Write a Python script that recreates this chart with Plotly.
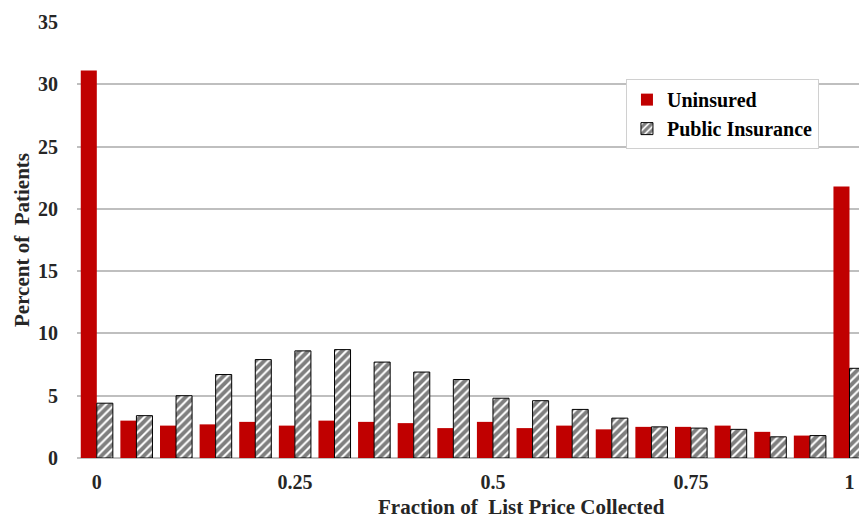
import plotly.graph_objects as go

# bins of the fraction of list price collected (category positions)
bins = ['0', '0.05', '0.1', '0.15', '0.2', '0.25', '0.3', '0.35', '0.4', '0.45',
        '0.5', '0.55', '0.6', '0.65', '0.7', '0.75', '0.8', '0.85', '0.9', '1']

# percent of patients
uninsured = [31.1, 3.0, 2.6, 2.7, 2.9, 2.6, 3.0, 2.9, 2.8, 2.4,
             2.9, 2.4, 2.6, 2.3, 2.5, 2.5, 2.6, 2.1, 1.8, 21.8]
public_ins = [4.4, 3.4, 5.0, 6.7, 7.9, 8.6, 8.7, 7.7, 6.9, 6.3,
              4.8, 4.6, 3.9, 3.2, 2.5, 2.4, 2.3, 1.7, 1.8, 7.2]

tick_vals = ['0', '0.25', '0.5', '0.75', '1']
tick_text = ['0', '0.25', '0.5', '0.75', '1']
y_ticks = [0, 5, 10, 15, 20, 25, 30, 35]

font_family = 'Liberation Serif'
text_color = '#262626'

fig = go.Figure()
fig.add_trace(go.Bar(
    x=bins, y=uninsured, name='<b>Uninsured</b>',
    marker=dict(color='#c00000', line=dict(width=0)),
))
fig.add_trace(go.Bar(
    x=bins, y=public_ins, name='<b>Public Insurance</b>',
    marker=dict(color='white',
                line=dict(color='black', width=1),
                pattern=dict(shape='/', fgcolor='black', bgcolor='white',
                             size=6, solidity=0.65)),
))

fig.update_layout(
    width=859, height=519,
    margin=dict(l=77, r=0, t=22, b=61),
    paper_bgcolor='white', plot_bgcolor='white',
    barmode='group', bargap=0.19, bargroupgap=0,
    font=dict(family=font_family, color=text_color, size=20),
    showlegend=True,
    legend=dict(x=0.702, y=0.869, xanchor='left', yanchor='top',
                bgcolor='white', bordercolor='#d0d0d0', borderwidth=1,
                font=dict(family=font_family, size=20, color='black'),
                tracegroupgap=0, itemwidth=30),
    xaxis=dict(
        type='category', range=[-0.5, 19.24], automargin=False,
        tickmode='array', tickvals=tick_vals,
        ticktext=['<b>%s</b>' % t for t in tick_text],
        showgrid=False, showline=False, ticks='',
        tickfont=dict(family=font_family, size=20, color=text_color),
        ticklabelstandoff=10,
    ),
    yaxis=dict(
        range=[0, 35], automargin=False,
        tickmode='array', tickvals=y_ticks,
        ticktext=['<b>%d</b>' % v for v in y_ticks],
        showgrid=True, gridcolor='#bfbfbf', gridwidth=1.5,
        zeroline=True, zerolinecolor='#bfbfbf', zerolinewidth=1.5,
        showline=False, ticks='',
        tickfont=dict(family=font_family, size=20, color=text_color),
        ticklabelstandoff=18,
        title=dict(text='<b>Percent of  Patients</b>',
                   font=dict(family=font_family, size=21, color=text_color),
                   standoff=2),
    ),
)

# x title sits off-centre in the original (its plot area was wider than the crop)
fig.add_annotation(
    text='<b>Fraction of  List Price Collected</b>',
    xref='paper', yref='paper', x=0.569, y=-0.112,
    xanchor='center', yanchor='middle', showarrow=False,
    font=dict(family=font_family, size=21, color=text_color),
)

# drop the page's default body margin so the figure fills the window
fig.write_html("out.html", config={'displayModeBar': False},
               post_script="document.body.style.margin='0';")
